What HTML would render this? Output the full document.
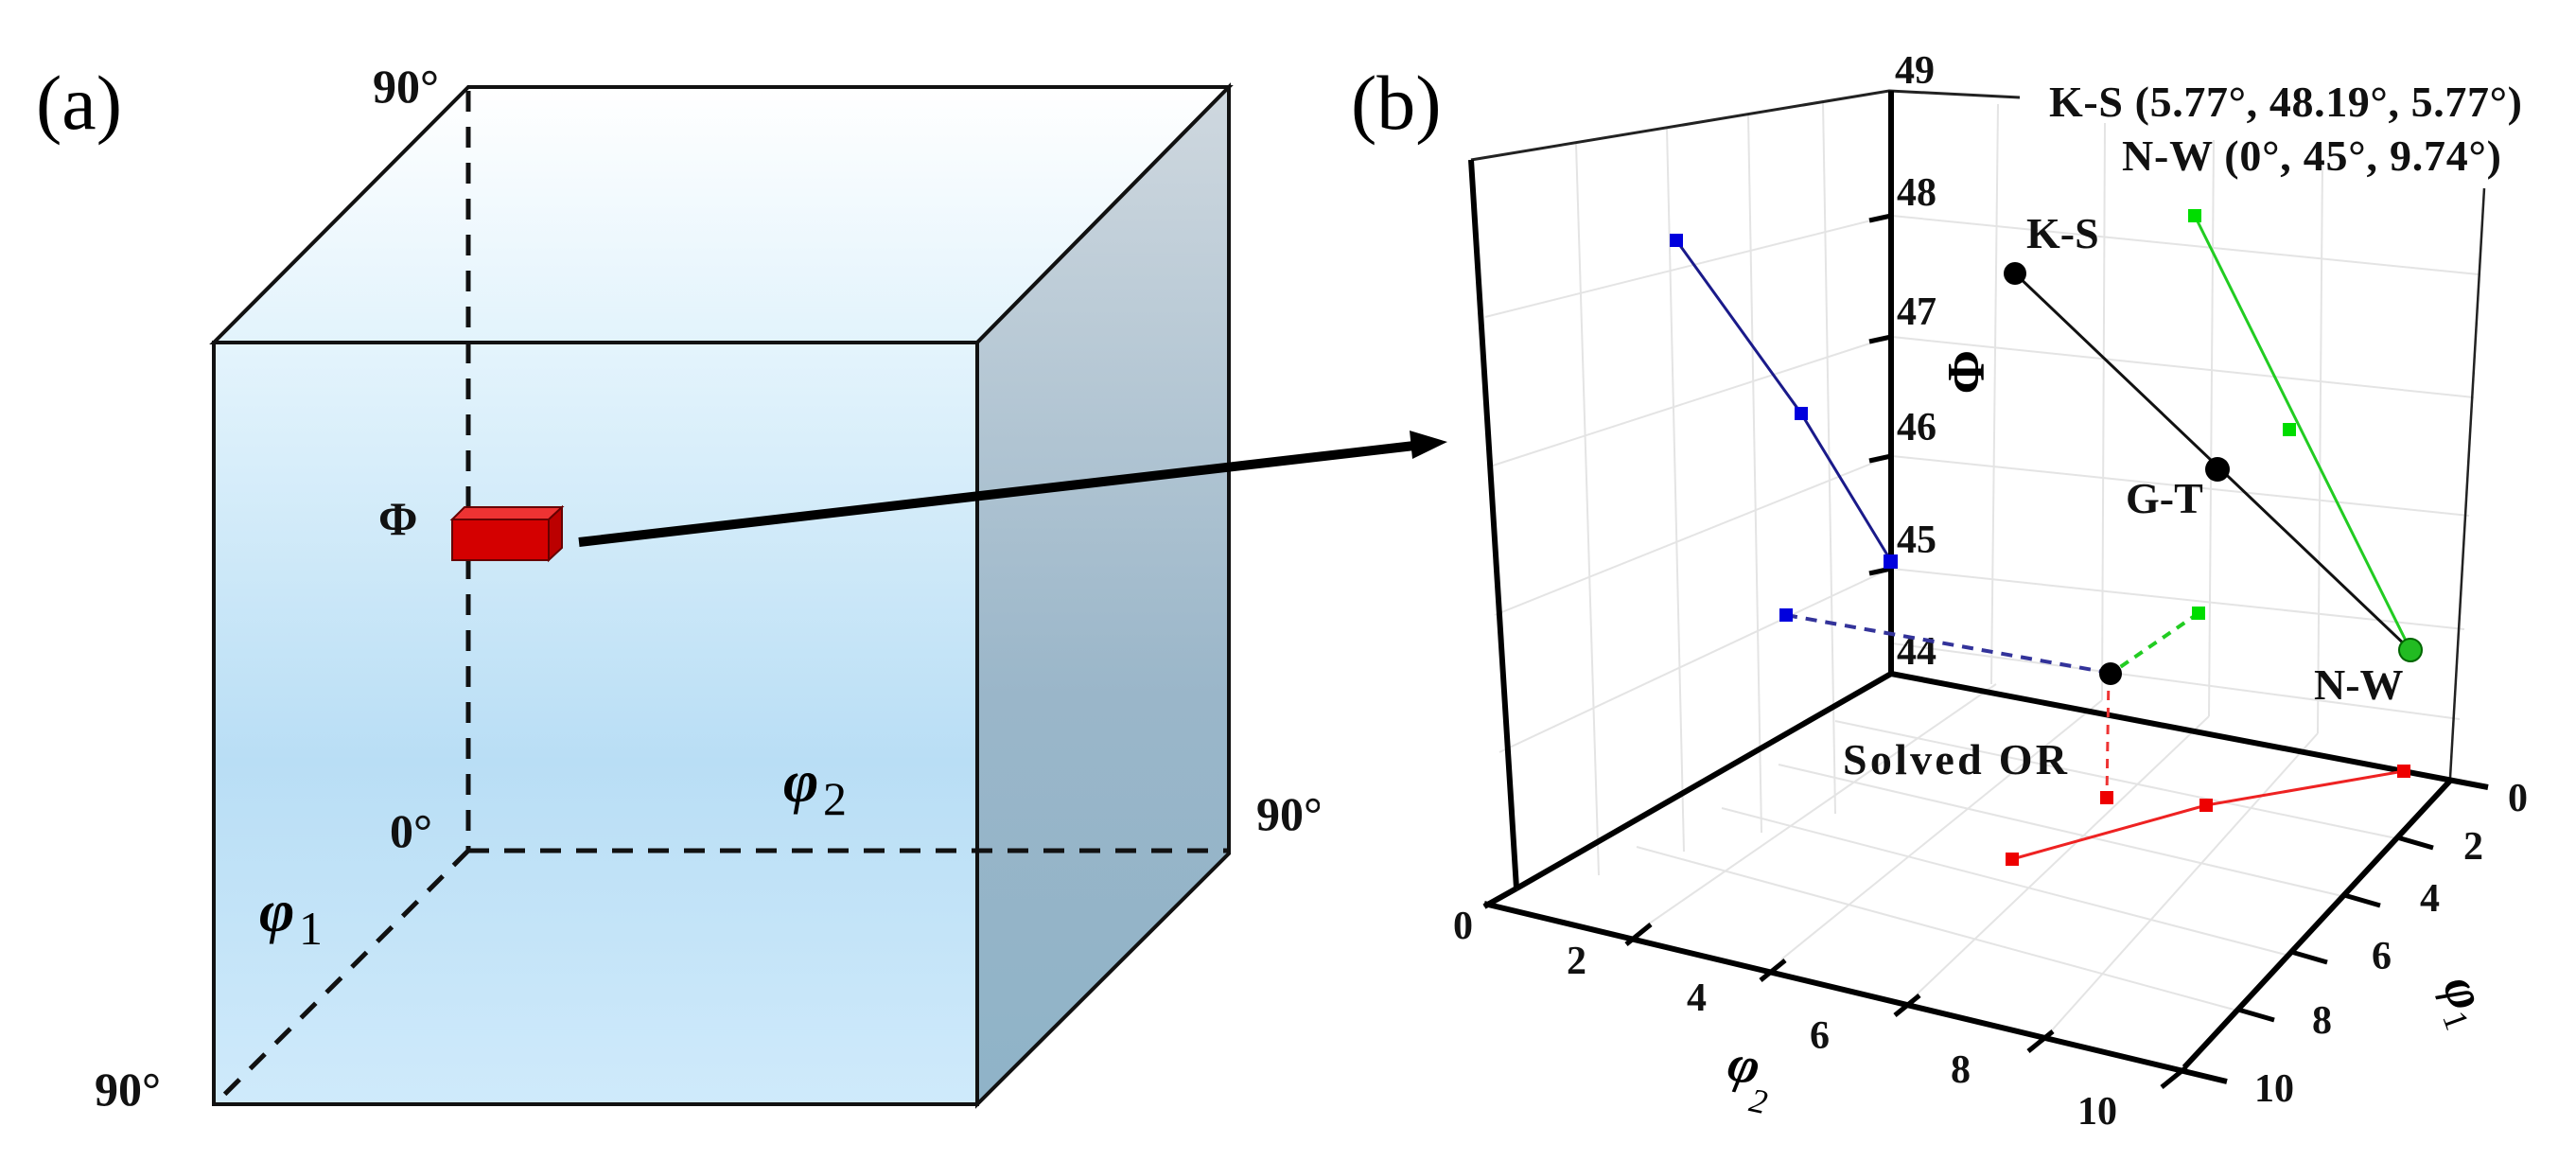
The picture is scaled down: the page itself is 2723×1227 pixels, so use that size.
<!DOCTYPE html>
<html><head><meta charset="utf-8"><style>
html,body{margin:0;padding:0;background:#fff;}
svg{display:block;}
text{font-family:"Liberation Serif",serif;}
</style></head><body>
<svg width="2723" height="1227" viewBox="0 0 2723 1227" xmlns="http://www.w3.org/2000/svg">
<defs>
<linearGradient id="front" x1="0" y1="0" x2="0" y2="1">
<stop offset="0" stop-color="#e4f4fc"/><stop offset="0.55" stop-color="#b9def5"/><stop offset="1" stop-color="#cfeafb"/>
</linearGradient>
<linearGradient id="top" x1="0" y1="0" x2="0" y2="1">
<stop offset="0" stop-color="#ffffff"/><stop offset="1" stop-color="#e2f3fc"/>
</linearGradient>
<linearGradient id="side" x1="0" y1="0" x2="0" y2="1">
<stop offset="0" stop-color="#cfd8df"/><stop offset="0.6" stop-color="#9ab6c9"/><stop offset="1" stop-color="#8fb3c8"/>
</linearGradient>
<clipPath id="lc"><rect x="0" y="0" width="1395" height="1227"/></clipPath>
</defs>

<!-- Panel (a) -->
<text x="38" y="136" font-size="82">(a)</text>
<polygon points="226,362 495,92 1299,92 1033,362" fill="url(#top)" stroke="#111" stroke-width="4"/>
<polygon points="1033,362 1299,92 1299,902 1033,1167" fill="url(#side)" stroke="#111" stroke-width="4"/>
<rect x="226" y="362" width="807" height="805" fill="url(#front)" stroke="#111" stroke-width="4"/>
<g stroke="#111" stroke-width="5" stroke-dasharray="22,16" fill="none">
<line x1="495" y1="96" x2="495" y2="899"/>
<line x1="495" y1="899" x2="1299" y2="899"/>
<line x1="495" y1="899" x2="228" y2="1166"/>
</g>
<g font-weight="bold" font-size="50" fill="#111">
<text x="394" y="108">90°</text>
<text x="412" y="895">0°</text>
<text x="100" y="1168">90°</text>
<text x="1328" y="877" clip-path="url(#lc)">90°</text>
<text x="400" y="565">Φ</text>
</g>
<text x="274" y="984" font-size="64" font-style="italic" font-weight="bold">φ</text>
<text x="316" y="998" font-size="50">1</text>
<text x="828" y="847" font-size="64" font-style="italic" font-weight="bold">φ</text>
<text x="870" y="861" font-size="50">2</text>
<!-- red box -->
<polygon points="478,549 491,536 594,536 580,549" fill="#e33" stroke="#600" stroke-width="2"/>
<polygon points="580,549 594,536 594,579 580,592" fill="#b00" stroke="#600" stroke-width="2"/>
<rect x="478" y="549" width="102" height="43" fill="#d40000" stroke="#600" stroke-width="2"/>
<!-- arrow -->
<line x1="612" y1="573" x2="1495" y2="471" stroke="#000" stroke-width="10"/>
<polygon points="1530,467 1490,455 1493,485" fill="#000"/>

<!-- Panel (b) -->
<text x="1428" y="136" font-size="82">(b)</text>
<g stroke="#e4e4e4" stroke-width="2" fill="none">
<line x1="1666" y1="152" x2="1690" y2="925"/>
<line x1="1762" y1="136" x2="1780" y2="900"/>
<line x1="1848" y1="122" x2="1862" y2="880"/>
<line x1="1927" y1="108" x2="1940" y2="860"/>
<line x1="1570" y1="335" x2="1998" y2="228"/>
<line x1="1575" y1="493" x2="1998" y2="356"/>
<line x1="1580" y1="650" x2="1998" y2="482"/>
<line x1="1585" y1="795" x2="1998" y2="601"/>
<line x1="2000" y1="228" x2="2620" y2="290"/>
<line x1="2000" y1="356" x2="2615" y2="420"/>
<line x1="2000" y1="482" x2="2610" y2="545"/>
<line x1="2000" y1="601" x2="2605" y2="665"/>
<line x1="2000" y1="680" x2="2600" y2="760"/>
<line x1="2112" y1="110" x2="2105" y2="723"/>
<line x1="2225" y1="130" x2="2222" y2="740"/>
<line x1="2340" y1="148" x2="2335" y2="757"/>
<line x1="2455" y1="170" x2="2450" y2="775"/>
<line x1="2110" y1="723" x2="1742" y2="977"/>
<line x1="2222" y1="740" x2="1883" y2="1014"/>
<line x1="2335" y1="757" x2="2025" y2="1052"/>
<line x1="2450" y1="775" x2="2168" y2="1090"/>
<line x1="1940" y1="762" x2="2533" y2="886"/>
<line x1="1880" y1="808" x2="2476" y2="947"/>
<line x1="1820" y1="854" x2="2420" y2="1010"/>
<line x1="1730" y1="895" x2="2365" y2="1068"/>
</g>
<g stroke="#222" fill="none">
<polyline points="1555,169 1997,96 2135,103" stroke-width="3"/>
<line x1="2626" y1="199" x2="2590" y2="822" stroke-width="2.5"/>
</g>
<g stroke="#000" fill="none" stroke-width="6">
<line x1="1555" y1="169" x2="1603" y2="939"/>
<line x1="1999" y1="96" x2="1999" y2="712"/>
<line x1="1603" y1="939" x2="1999" y2="712"/>
<line x1="1999" y1="712" x2="2630" y2="832"/>
<line x1="2590" y1="825" x2="2309" y2="1128"/>
<line x1="1569" y1="955" x2="2354" y2="1143"/>
<line x1="1603" y1="939" x2="1569" y2="958"/>
<line x1="1999" y1="228" x2="1976" y2="233" stroke-width="5"/>
<line x1="1999" y1="356" x2="1976" y2="361" stroke-width="5"/>
<line x1="1999" y1="482" x2="1976" y2="487" stroke-width="5"/>
<line x1="1999" y1="601" x2="1976" y2="606" stroke-width="5"/>
<line x1="1745" y1="977" x2="1719" y2="998" stroke-width="5"/>
<line x1="1887" y1="1015" x2="1861" y2="1036" stroke-width="5"/>
<line x1="2029" y1="1052" x2="2003" y2="1073" stroke-width="5"/>
<line x1="2170" y1="1090" x2="2144" y2="1111" stroke-width="5"/>
<line x1="2311" y1="1128" x2="2285" y2="1149" stroke-width="5"/>
<line x1="2534" y1="885" x2="2572" y2="896" stroke-width="5"/>
<line x1="2478" y1="946" x2="2516" y2="957" stroke-width="5"/>
<line x1="2422" y1="1006" x2="2460" y2="1017" stroke-width="5"/>
<line x1="2366" y1="1067" x2="2404" y2="1078" stroke-width="5"/>
</g>
<g font-weight="bold" font-size="42" fill="#111">
<text x="2003" y="88">49</text>
<text x="2005" y="217">48</text>
<text x="2005" y="343">47</text>
<text x="2005" y="465">46</text>
<text x="2005" y="584">45</text>
<text x="2005" y="702">44</text>
<text x="1536" y="992">0</text>
<text x="1656" y="1029">2</text>
<text x="1783" y="1068">4</text>
<text x="1913" y="1108">6</text>
<text x="2062" y="1144">8</text>
<text x="2196" y="1188">10</text>
<text x="2651" y="857">0</text>
<text x="2604" y="908">2</text>
<text x="2558" y="963">4</text>
<text x="2507" y="1024">6</text>
<text x="2444" y="1092">8</text>
<text x="2383" y="1164">10</text>
</g>
<text x="0" y="0" font-size="56" font-weight="bold" transform="translate(2060,370) rotate(90)">Φ</text>
<g transform="translate(2582,1040) rotate(70)"><text x="0" y="0" font-size="56" font-style="italic" font-weight="bold">φ</text><text x="32" y="12" font-size="36">1</text></g>
<g transform="translate(1824,1140) rotate(12)"><text x="0" y="0" font-size="56" font-style="italic" font-weight="bold">φ</text><text x="30" y="28" font-size="36" font-style="italic">2</text></g>

<g fill="none" stroke-width="3">
<polyline points="1772,254 1904,437 1999,593" stroke="#1a1a8a"/>
<line x1="1888" y1="650" x2="2229" y2="711" stroke="#33339a" stroke-dasharray="12,9" stroke-width="4"/>
<line x1="2130" y1="289" x2="2548" y2="687" stroke="#111"/>
<line x1="2320" y1="228" x2="2548" y2="687" stroke="#22cc22"/>
<line x1="2324" y1="648" x2="2231" y2="712" stroke="#22cc22" stroke-dasharray="10,8" stroke-width="4"/>
<line x1="2229" y1="712" x2="2227" y2="843" stroke="#e33" stroke-dasharray="10,8"/>
<polyline points="2127,908 2332,851 2541,815" stroke="#e22"/>
</g>
<g fill="#0000dd">
<rect x="1765" y="247" width="14" height="14"/><rect x="1897" y="430" width="14" height="14"/><rect x="1991" y="586" width="15" height="15"/><rect x="1881" y="643" width="14" height="14"/>
</g>
<g fill="#00dd00">
<rect x="2313" y="221" width="14" height="14"/><rect x="2413" y="447" width="14" height="14"/><rect x="2317" y="641" width="14" height="14"/>
</g>
<g fill="#ee0000">
<rect x="2120" y="901" width="14" height="14"/><rect x="2325" y="844" width="14" height="14"/><rect x="2534" y="808" width="14" height="14"/><rect x="2220" y="836" width="14" height="14"/>
</g>
<circle cx="2130" cy="289" r="12" fill="#000"/>
<circle cx="2344" cy="496" r="13" fill="#000"/>
<circle cx="2231" cy="712" r="12" fill="#000"/>
<circle cx="2548" cy="687" r="12" fill="#22bb22" stroke="#060" stroke-width="2"/>
<g font-weight="bold" font-size="46" fill="#111">
<text x="2142" y="262">K-S</text>
<text x="2247" y="542">G-T</text>
<text x="2446" y="739">N-W</text>
<text x="1948" y="818" textLength="237">Solved OR</text>
<text x="2166" y="123" textLength="500">K-S (5.77°, 48.19°, 5.77°)</text>
<text x="2243" y="180" textLength="401">N-W (0°, 45°, 9.74°)</text>
</g>
</svg>
</body></html>
